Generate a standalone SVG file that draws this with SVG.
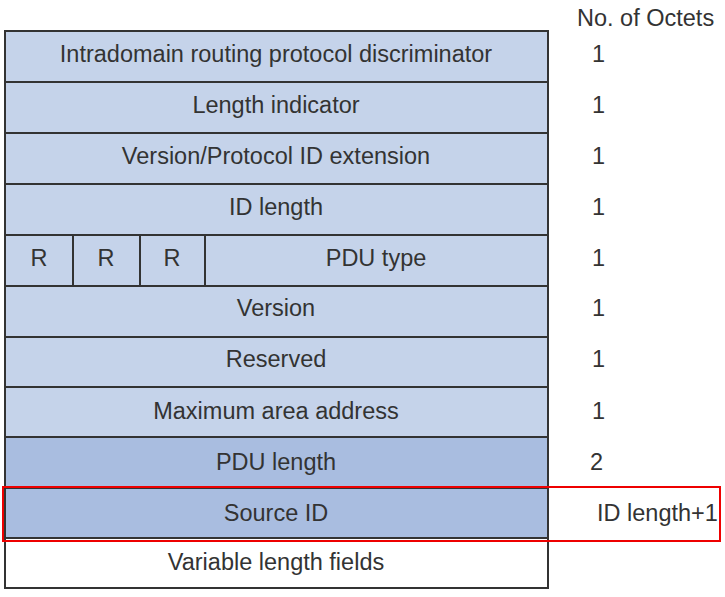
<svg xmlns="http://www.w3.org/2000/svg" width="725" height="597" viewBox="0 0 725 597">
<style>
.c{fill:#c5d3ea;stroke:#333;stroke-width:2}
.d{fill:#a9bde0;stroke:#333;stroke-width:2}
.w{fill:#fff;stroke:#333;stroke-width:2}
text{font-family:"Liberation Sans",Arial,sans-serif;font-size:23.5px;fill:#333}
.m{text-anchor:middle}
</style>
<rect width="725" height="597" fill="#fff"/>
<text x="577" y="26">No. of Octets</text>
<g id="row1"><rect class="c" x="5" y="31" width="543" height="51"/><text class="m" x="276" y="62">Intradomain routing protocol discriminator</text><text x="592" y="62">1</text></g>
<g id="row2"><rect class="c" x="5" y="82" width="543" height="51"/><text class="m" x="276" y="113">Length indicator</text><text x="592" y="113">1</text></g>
<g id="row3"><rect class="c" x="5" y="133" width="543" height="51"/><text class="m" x="276" y="164">Version/Protocol ID extension</text><text x="592" y="164">1</text></g>
<g id="row4"><rect class="c" x="5" y="184" width="543" height="51"/><text class="m" x="276" y="215">ID length</text><text x="592" y="215">1</text></g>
<g id="row5">
<rect class="c" x="5" y="235" width="68" height="51"/><text class="m" x="39" y="266">R</text>
<rect class="c" x="73" y="235" width="67" height="51"/><text class="m" x="106" y="266">R</text>
<rect class="c" x="140" y="235" width="65" height="51"/><text class="m" x="172" y="266">R</text>
<rect class="c" x="205" y="235" width="343" height="51"/><text class="m" x="376" y="266">PDU type</text>
<text x="592" y="266">1</text></g>
<g id="row6"><rect class="c" x="5" y="286" width="543" height="51"/><text class="m" x="276" y="316">Version</text><text x="592" y="316">1</text></g>
<g id="row7"><rect class="c" x="5" y="337" width="543" height="50"/><text class="m" x="276" y="367">Reserved</text><text x="592" y="367">1</text></g>
<g id="row8"><rect class="c" x="5" y="387" width="543" height="50"/><text class="m" x="276" y="419">Maximum area address</text><text x="592" y="419">1</text></g>
<g id="row9"><rect class="d" x="5" y="437" width="543" height="51"/><text class="m" x="276" y="470">PDU length</text><text x="590" y="470">2</text></g>
<g id="row10"><rect class="d" x="5" y="488" width="543" height="50"/><text class="m" x="276" y="521">Source ID</text><text x="597" y="521">ID length+1</text></g>
<g id="row11"><rect class="w" x="5" y="538" width="543" height="50"/><text class="m" x="276" y="570">Variable length fields</text></g>
<g id="connectors"><rect x="3" y="487" width="717" height="54" fill="none" stroke="#e00" stroke-width="2"/></g>
</svg>
